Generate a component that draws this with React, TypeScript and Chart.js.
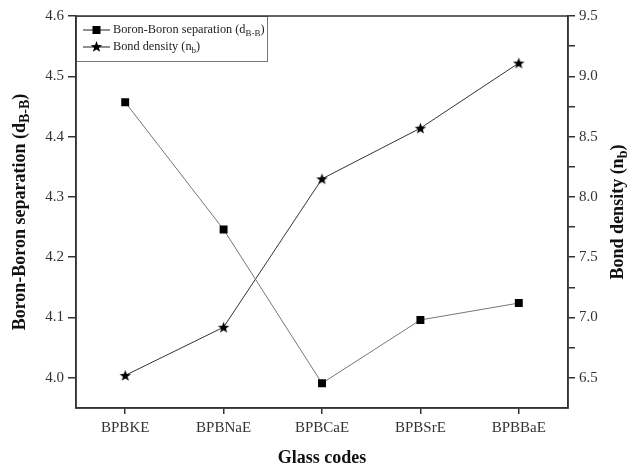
import React, { useEffect, useRef } from 'react';
import { Chart, registerables } from 'chart.js';

Chart.register(...registerables);

const categories = ['BPBKE', 'BPBNaE', 'BPBCaE', 'BPBSrE', 'BPBBaE'];
const separation = [4.457, 4.246, 3.991, 4.096, 4.124];
const bondDensity = [6.52, 6.92, 8.15, 8.57, 9.11];
const leftTicks = [4.0, 4.1, 4.2, 4.3, 4.4, 4.5, 4.6];
const rightTicks = [6.5, 6.75, 7.0, 7.25, 7.5, 7.75, 8.0, 8.25, 8.5, 8.75, 9.0, 9.25, 9.5];

const SERIF = '"Liberation Serif", "Times New Roman", serif';
const AXIS = '#333';

type Part = { t: string; sub?: boolean };

function richWidth(ctx: CanvasRenderingContext2D, parts: Part[], size: number, bold: boolean) {
  let w = 0;
  for (const p of parts) {
    ctx.font = `${bold ? 'bold ' : ''}${p.sub ? Math.round(size * 0.75) : size}px ${SERIF}`;
    w += ctx.measureText(p.t).width;
  }
  return w;
}

function drawRich(
  ctx: CanvasRenderingContext2D,
  parts: Part[],
  x: number,
  y: number,
  size: number,
  bold: boolean,
  align: 'left' | 'center'
) {
  const w = richWidth(ctx, parts, size, bold);
  let cx = align === 'center' ? x - w / 2 : x;
  ctx.textBaseline = 'middle';
  ctx.textAlign = 'left';
  for (const p of parts) {
    const s = p.sub ? Math.round(size * 0.75) : size;
    ctx.font = `${bold ? 'bold ' : ''}${s}px ${SERIF}`;
    ctx.fillText(p.t, cx, p.sub ? y + size * 0.3 : y);
    cx += ctx.measureText(p.t).width;
  }
}

function makeStar(): HTMLCanvasElement {
  const c = document.createElement('canvas');
  c.width = 13;
  c.height = 13;
  const g = c.getContext('2d')!;
  const cx = 6.5, cy = 7, R = 6, r = 2.5;
  g.beginPath();
  for (let i = 0; i < 10; i++) {
    const a = -Math.PI / 2 + (i * Math.PI) / 5;
    const rad = i % 2 === 0 ? R : r;
    const px = cx + rad * Math.cos(a);
    const py = cy + rad * Math.sin(a);
    if (i === 0) g.moveTo(px, py);
    else g.lineTo(px, py);
  }
  g.closePath();
  g.fillStyle = '#000';
  g.fill();
  return c;
}

export default function App() {
  const ref = useRef<HTMLCanvasElement>(null);

  useEffect(() => {
    const canvas = ref.current!;
    const star = makeStar();

    const decor = {
      id: 'decor',
      afterDraw(chart: any) {
        const ctx: CanvasRenderingContext2D = chart.ctx;
        const a = chart.chartArea;
        ctx.save();
        // legend
        const lx = a.left, ly = a.top, lw = 191, lh = 45;
        ctx.fillStyle = '#fff';
        ctx.fillRect(lx, ly, lw, lh);
        ctx.strokeStyle = '#777';
        ctx.lineWidth = 1;
        ctx.strokeRect(lx + 0.5, ly + 0.5, lw, lh);
        const rows = [ly + 14, ly + 31];
        ctx.strokeStyle = '#222';
        ctx.lineWidth = 1;
        for (const ry of rows) {
          ctx.beginPath();
          ctx.moveTo(lx + 7, ry);
          ctx.lineTo(lx + 34, ry);
          ctx.stroke();
        }
        ctx.fillStyle = '#000';
        ctx.fillRect(lx + 16.5, rows[0] - 4, 8, 8);
        ctx.drawImage(star, lx + 14, rows[1] - 7);
        ctx.fillStyle = '#222';
        drawRich(ctx, [{ t: 'Boron-Boron separation (d' }, { t: 'B-B', sub: true }, { t: ')' }], lx + 37, rows[0], 12.3, false, 'left');
        drawRich(ctx, [{ t: 'Bond density (n' }, { t: 'b', sub: true }, { t: ')' }], lx + 37, rows[1], 12.3, false, 'left');

        // frame
        ctx.strokeStyle = AXIS;
        ctx.lineWidth = 1.5;
        ctx.strokeRect(a.left, a.top, a.right - a.left, a.bottom - a.top);

        // axis titles
        ctx.fillStyle = '#111';
        const midY = (a.top + a.bottom) / 2;
        ctx.save();
        ctx.translate(20, midY);
        ctx.rotate(-Math.PI / 2);
        drawRich(ctx, [{ t: 'Boron-Boron separation (d' }, { t: 'B-B', sub: true }, { t: ')' }], 0, 0, 18, true, 'center');
        ctx.restore();
        ctx.save();
        ctx.translate(618, midY);
        ctx.rotate(-Math.PI / 2);
        drawRich(ctx, [{ t: 'Bond density (n' }, { t: 'b', sub: true }, { t: ')' }], 0, 0, 18, true, 'center');
        ctx.restore();
        drawRich(ctx, [{ t: 'Glass codes' }], (a.left + a.right) / 2, 458, 18, true, 'center');
        ctx.restore();
      },
    };

    const tickFont = { family: SERIF, size: 15 };

    const chart = new Chart(canvas, {
      type: 'line',
      data: {
        labels: categories,
        datasets: [
          {
            label: 'Boron-Boron separation',
            data: separation,
            yAxisID: 'y',
            borderColor: '#777',
            borderWidth: 1,
            backgroundColor: '#000',
            pointStyle: 'rect',
            pointRadius: 5.6,
            pointBorderWidth: 0,
            pointBackgroundColor: '#000',
            pointBorderColor: '#000',
            fill: false,
            tension: 0,
          },
          {
            label: 'Bond density',
            data: bondDensity,
            yAxisID: 'y1',
            borderColor: '#333',
            borderWidth: 1,
            pointStyle: star as any,
            pointRadius: 6,
            fill: false,
            tension: 0,
          },
        ],
      },
      options: {
        animation: false,
        responsive: false,
        devicePixelRatio: 1,
        layout: { padding: { top: 16, left: 0, right: 0, bottom: 0 } },
        plugins: {
          legend: { display: false },
          tooltip: { enabled: false },
          title: { display: false },
        },
        scales: {
          x: {
            type: 'category',
            offset: true,
            position: 'bottom',
            grid: { display: true, drawOnChartArea: false, drawTicks: true, tickLength: 6, color: AXIS, lineWidth: 1.5, offset: false },
            border: { display: true, color: AXIS, width: 1.5 },
            ticks: { font: tickFont, color: '#333', padding: 5, maxRotation: 0, autoSkip: false },
            afterFit: (s: any) => { s.height = 59; },
          },
          y: {
            type: 'linear',
            position: 'left',
            min: 3.95,
            max: 4.6,
            afterBuildTicks: (s: any) => { s.ticks = leftTicks.map((v) => ({ value: v })); },
            grid: { display: true, drawOnChartArea: false, drawTicks: true, tickLength: 8, color: AXIS, lineWidth: 1.5 },
            border: { display: true, color: AXIS, width: 1.5 },
            ticks: { font: tickFont, color: '#333', padding: 4, callback: (v: any) => Number(v).toFixed(1) },
            afterFit: (s: any) => { s.width = 76; },
          },
          y1: {
            type: 'linear',
            position: 'right',
            min: 6.25,
            max: 9.5,
            afterBuildTicks: (s: any) => { s.ticks = rightTicks.map((v) => ({ value: v })); },
            grid: { display: true, drawOnChartArea: false, drawTicks: true, tickLength: 7, color: AXIS, lineWidth: 1.5 },
            border: { display: true, color: AXIS, width: 1.5 },
            ticks: {
              font: tickFont,
              color: '#333',
              padding: 4,
              autoSkip: false,
              callback: (v: any) => (Math.abs(Number(v) * 2 - Math.round(Number(v) * 2)) < 1e-6 ? Number(v).toFixed(1) : ''),
            },
            afterFit: (s: any) => { s.width = 61; },
          },
        },
      },
      plugins: [decor],
    });

    return () => chart.destroy();
  }, []);

  return (
    <div style={{ position: 'absolute', left: 0, top: 0, width: 629, height: 467, background: '#fff' }}>
      <canvas ref={ref} width={629} height={467} style={{ width: 629, height: 467, display: 'block' }} />
    </div>
  );
}
